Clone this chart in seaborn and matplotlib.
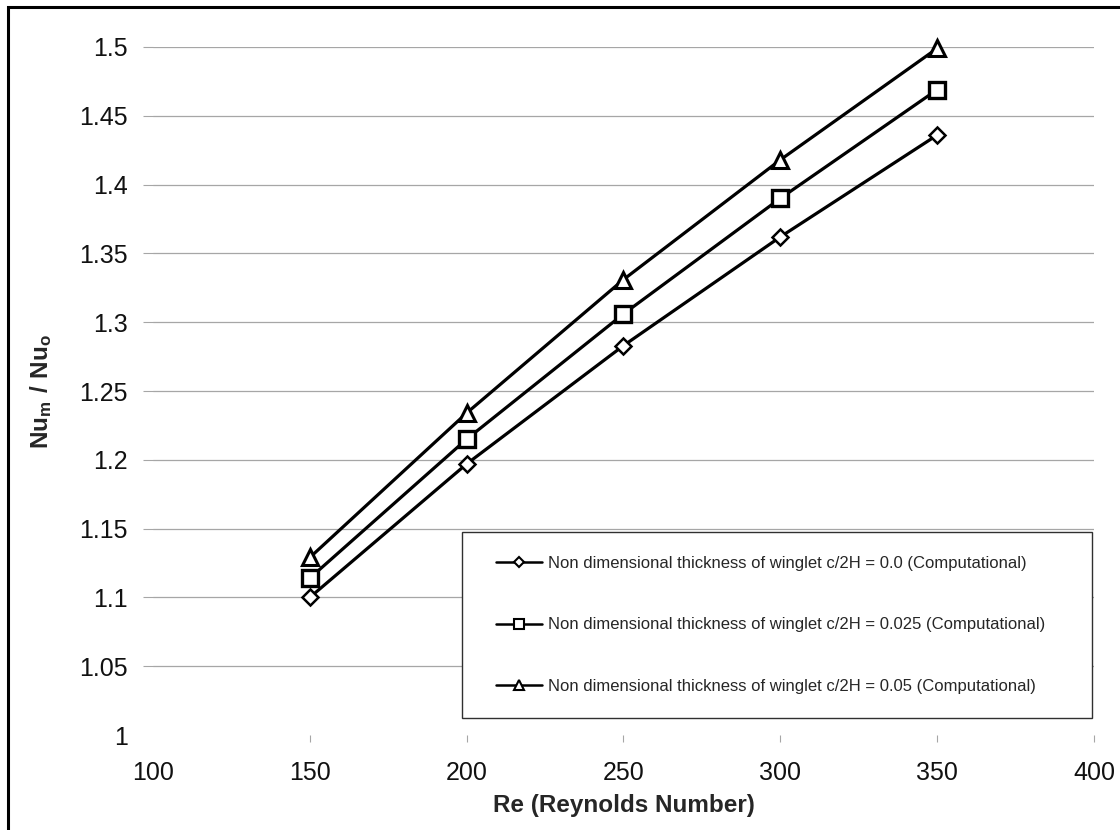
import pandas as pd
import matplotlib
matplotlib.use("Agg")
import matplotlib.pyplot as plt
from matplotlib.patches import Rectangle
import seaborn as sns

# data
reynolds = [150, 200, 250, 300, 350]
nu_c0 = [1.100, 1.197, 1.283, 1.362, 1.436]
nu_c025 = [1.114, 1.215, 1.306, 1.390, 1.469]
nu_c05 = [1.129, 1.234, 1.331, 1.418, 1.499]
labels = [
    "Non dimensional thickness of winglet c/2H = 0.0 (Computational)",
    "Non dimensional thickness of winglet c/2H = 0.025 (Computational)",
    "Non dimensional thickness of winglet c/2H = 0.05 (Computational)",
]
x_ticks = [100, 150, 200, 250, 300, 350, 400]
y_ticks = [1, 1.05, 1.1, 1.15, 1.2, 1.25, 1.3, 1.35, 1.4, 1.45, 1.5]

sns.set_style("white")
plt.rcParams['font.family'] = ['Liberation Sans', 'DejaVu Sans']
plt.rcParams['mathtext.fontset'] = 'custom'
plt.rcParams['mathtext.bf'] = 'Liberation Sans:bold'
plt.rcParams['mathtext.rm'] = 'Liberation Sans'

fig = plt.figure(figsize=(11.2, 8.3), dpi=100)
ax = fig.add_axes([153 / 1120, 1 - 735 / 830, 941 / 1120, 688 / 830])

# outer frame (only top/left visible in the crop)
fig.patches.append(Rectangle((8 / 1120, -0.1), 1.2, 1 - 7 / 830 + 0.1,
                             transform=fig.transFigure, fill=False,
                             edgecolor='black', linewidth=2.2, zorder=0))

series = [
    (nu_c0, 'D', 8.5, 1.8),
    (nu_c025, 's', 11, 2.4),
    (nu_c05, '^', 11, 2.2),
]
for (vals, mk, ms, mew), lab in zip(series, labels):
    df = pd.DataFrame({'Re': reynolds, 'Nu': vals})
    sns.lineplot(data=df, x='Re', y='Nu', ax=ax, color='black', linewidth=2.3,
                 marker=mk, markersize=ms, markerfacecolor='white',
                 markeredgecolor='black', markeredgewidth=mew, label=lab,
                 zorder=3, clip_on=False)

ax.set_xlim(100, 400)
ax.set_ylim(1, 1.5)
ax.set_xticks(x_ticks)
ax.set_yticks(y_ticks)
ax.set_xticklabels([str(t) for t in x_ticks])
ax.set_yticklabels(['1', '1.05', '1.1', '1.15', '1.2', '1.25', '1.3',
                    '1.35', '1.4', '1.45', '1.5'])

for s in ax.spines.values():
    s.set_visible(False)
ax.grid(axis='y', color='#a6a6a6', linewidth=0.9)
ax.grid(axis='x', visible=False)
ax.tick_params(axis='y', length=7, width=0.8, color='#a6a6a6', pad=11,
               labelsize=18, labelcolor='#111111', left=True)
ax.tick_params(axis='x', length=5, width=0.8, color='#a6a6a6', pad=14,
               labelsize=18, labelcolor='#111111', bottom=True)
ax.get_ygridlines()[0].set_visible(False)
ax.yaxis.get_major_ticks()[0].tick1line.set_visible(False)
ax.xaxis.get_major_ticks()[0].tick1line.set_visible(False)

ax.set_xlabel('Re (Reynolds Number)', fontsize=17.5, fontweight='bold', labelpad=6)
ax.set_ylabel(r'$\mathbf{Nu_m\ /\ Nu_o}$', fontsize=17.5, labelpad=18)

# legend box
ax.add_patch(Rectangle((309 / 941, 17 / 688), 630 / 941, 186 / 688,
                       transform=ax.transAxes, facecolor='white',
                       edgecolor='#303030', linewidth=1.0, zorder=4))
leg = ax.legend(loc='center left', bbox_to_anchor=(343 / 941, 0.16),
                frameon=False, borderpad=0, borderaxespad=0,
                handlelength=2.75, handletextpad=0.36, labelspacing=2.77,
                markerscale=0.6,
                prop={'family': ['Liberation Sans Narrow', 'Liberation Sans'],
                      'size': 12})
leg.set_zorder(5)
for h in leg.get_lines():
    h.set_linewidth(1.8)
    h.set_markeredgewidth(1.5)

fig.savefig('out.png', dpi=100)
